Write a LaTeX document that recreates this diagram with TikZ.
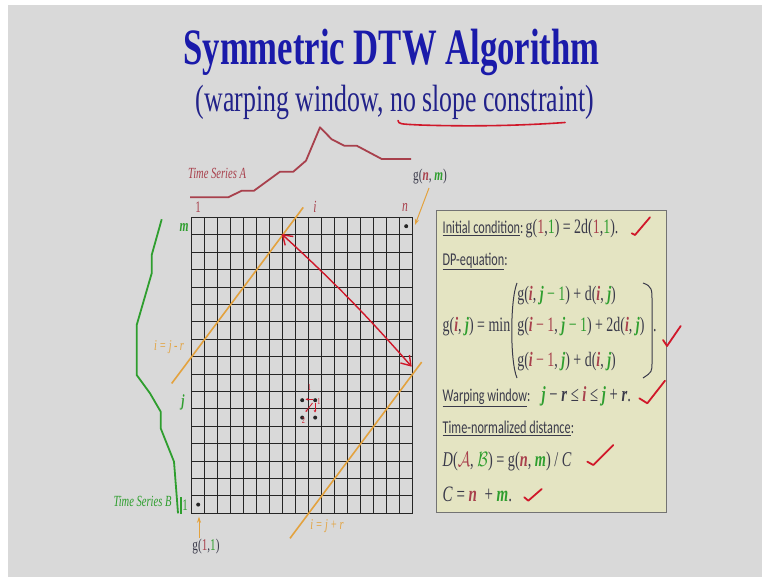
\documentclass[tikz,border=0pt]{standalone}
\usepackage{fontspec}
\setmainfont{Liberation Serif}[FakeStretch=0.68]
\newfontfamily\cbr{Carlito}[FakeStretch=0.68]
\usetikzlibrary{arrows.meta}
\definecolor{bg}{HTML}{D9D9D9}
\definecolor{ttl}{HTML}{1A1AAA}
\definecolor{subc}{HTML}{22228A}
\definecolor{mar}{HTML}{A8404C}
\definecolor{grn}{HTML}{2E9E2E}
\definecolor{org}{HTML}{E3A23E}
\definecolor{chk}{HTML}{D0182A}
\definecolor{boxf}{HTML}{E4E4C2}
\definecolor{txt}{HTML}{3A3A4A}
\newcommand{\ma}[1]{\textcolor{mar}{#1}}
\newcommand{\gr}[1]{\textcolor{grn}{#1}}
\newcommand{\bi}[1]{\textbf{\textit{#1}}}
\newcommand{\fs}[1]{\fontsize{#1}{#1}\selectfont}
\newcommand{\scA}{\scalebox{0.75}[1]{$\mathcal{A}$}}
\newcommand{\scB}{\scalebox{0.75}[1]{$\mathcal{B}$}}
\begin{document}
\begin{tikzpicture}[x=1pt,y=-1pt,
  every node/.style={inner sep=0pt, outer sep=0pt},
  txtl/.style={text=txt, anchor=base west},
  gridline/.style={line width=0.9pt, draw=black!85},
  chkmark/.style={chk, line width=1.8pt, line cap=round, line join=round},
  diag/.style={org, line width=1.6pt},
  oarrow/.style={org, line width=1pt, -{Stealth[length=6pt,width=4pt]}},
  smarr/.style={chk, line width=0.8pt, -{Stealth[length=2.5pt,width=2.5pt]}},
  dot/.style={fill=black!85}]
\useasboundingbox (0,0) rectangle (762,577);
\fill[white] (0,0) rectangle (762,577);
\fill[bg] (8,5) rectangle (762,577);

% titles
\node[anchor=base, text=ttl, font=\fs{51}\bfseries] (title) at (391.5,65) {Symmetric DTW Algorithm};
\node[anchor=base, text=subc, font=\fs{38}] (subt) at (395,112) {(warping window, no slope constraint)};
\draw[chk, line width=1.6pt, line cap=round] (398,120.5) .. controls (399,124) .. (420,125) .. controls (480,127) and (530,125) .. (565,122.5);

% time series A
\draw[mar, line width=1.8pt, line join=round] (190,197.3) -- (228.3,197.3) -- (241.7,190.7) -- (254,190.7) -- (280,171.7) -- (293.3,171.7) -- (306,160.7) -- (320,127.3) -- (331.7,139.3) -- (344.3,145.7) -- (356.7,145.7) -- (381.7,159) -- (411,159);
\node[text=mar, font=\fs{15.5}\itshape] (tsa) at (217,173) {Time Series A};

% time series B
\draw[grn, line width=1.8pt, line join=round] (161.7,219.3) -- (151.7,255) -- (151.7,273.3) -- (136.7,325) -- (136.7,375) -- (150,393.3) -- (160.7,411.7) -- (160.7,428.3) -- (174,461.7) -- (177,500) -- (178,513.3);
\draw[grn, line width=1.4pt] (181,497) -- (181,514);
\node[text=grn, font=\fs{15.5}\itshape] (tsb) at (142.5,501.7) {Time Series B};

% grid
\begin{scope}[shift={(191.7,513.3)}, x=13pt, y=17.4pt]
  \foreach \k in {0,...,17} {
    \draw[gridline] (\k,0) -- (\k,17);
    \draw[gridline] (0,\k) -- (17,\k);
  }
  \draw[line width=1.2pt, draw=black!85] (0,0) rectangle (17,17);
  \fill[dot] (0.5,0.5) circle (2pt);
  \fill[dot] (16.5,16.5) circle (2pt);
  \fill[dot] (8.5,6.5) circle (2pt);
  \fill[dot] (9.5,6.5) circle (2pt);
  \fill[dot] (8.5,5.5) circle (2pt);
  \fill[dot] (9.5,5.5) circle (2pt);
  \coordinate (w1a) at (-1.54,7.46);
  \coordinate (w1b) at (8.58,17.58);
  \coordinate (w2a) at (7.56,-1.44);
  \coordinate (w2b) at (17.69,8.69);
  \draw[diag] (w1a) -- (w1b);
  \draw[diag] (w2a) -- (w2b);
\end{scope}

% axis labels
\node[text=mar, font=\fs{16}] (a1) at (198,207) {1};
\node[text=mar, font=\fs{17}\itshape] (ai) at (315,207) {i};
\node[text=mar, font=\fs{17}\itshape] (an) at (405,207) {n};
\node[text=grn, font=\fs{17}\bfseries\itshape] (bm) at (184,227) {m};
\node[text=grn, font=\fs{17}\bfseries\itshape] (bj) at (183,402) {j};
\node[text=grn, font=\fs{16}] (b1) at (185,505) {1};
\node[text=org, font=\fs{15}\itshape] (lw1) at (169,347) {i\,=\,j\,-\,r};
\node[text=org, font=\fs{15}\itshape] (lw2) at (327,526) {i\,=\,j\,+\,r};

% g(n,m) and g(1,1)
\node[text=txt, font=\fs{16.5}] (gnm) at (430,177) {g(\ma{\bi{n}}, \gr{\bi{m}})};
\coordinate (gnmfoot) at (429,188);
\coordinate (gnmtip) at (415,225);
\draw[oarrow] (gnmfoot) -- (gnmtip);
\node[text=txt, font=\fs{16.5}] (g11) at (206,546.7) {g(\ma{1},\gr{1})};
\coordinate (g11foot) at (199,538);
\coordinate (g11tip) at (199,516.7);
\draw[oarrow] (g11foot) -- (g11tip);

% red double arrow
\coordinate (ra) at (281.7,234);
\coordinate (rb) at (411.7,366.7);
\draw[chk, line width=1.4pt, {Straight Barb[length=9pt,width=12pt]}-{Straight Barb[length=9pt,width=12pt]}] (ra) to[bend left=3] (rb);

% small local arrows
\draw[smarr] (313.3,399.3) -- (305.5,399.3);
\draw[smarr] (315,402.5) -- (315,412.5);
\draw[smarr] (312.5,403) -- (305.5,412);
\node[text=chk, font=\fs{9}] (s1) at (309.5,388) {1};
\node[text=chk, font=\fs{9}] (s2) at (319,402) {1};
\node[text=chk, font=\fs{9}] (s3) at (303.5,421) {2};

% box
\node[draw=black!55, line width=0.9pt, fill=boxf, minimum width=230pt, minimum height=302pt] (box) at (551,361) {};

\node[txtl] (l1) at (442.7,233.3) {{\cbr\fs{18}\underline{Initial condition}:} {\fs{20.5}g(\ma{1},\gr{1}) = 2d(\ma{1},\gr{1}).}};
\node[txtl] (l2) at (442.7,265) {\cbr\fs{18}\underline{DP-equation}:};
\node[txtl, font=\fs{20.5}] (l3) at (442.7,331.7) {g(\ma{\bi{i}}, \gr{\bi{j}}) = min};
\node[txtl, font=\fs{20.5}] (l3a) at (517.3,300) {g(\ma{\bi{i}}, \gr{\bi{j}\,−\,1}) + d(\ma{\bi{i}}, \gr{\bi{j}})};
\node[txtl, font=\fs{20.5}] (l3b) at (517.3,331.7) {g(\ma{\bi{i}\,−\,1}, \gr{\bi{j}\,−\,1}) + 2d(\ma{\bi{i}}, \gr{\bi{j}})};
\node[txtl, font=\fs{20.5}] (l3c) at (517.3,366.7) {g(\ma{\bi{i}\,−\,1}, \gr{\bi{j}}) + d(\ma{\bi{i}}, \gr{\bi{j}})};
\node[txtl, font=\fs{20.5}] (dot3) at (653,331.7) {.};
\draw[txt, line width=1pt] (517,283) .. controls (510,300) and (510,362) .. (517,378);
\draw[txt, line width=1pt] (643,283) .. controls (652,286) and (652,290) .. (652,300) -- (652,362) .. controls (652,372) .. (643,378);
\node[txtl] (l4) at (442.7,401.7) {\cbr\fs{18}\underline{Warping window}:};
\node[txtl, font=\fs{21.5}] (l4b) at (541.7,401.7) {\gr{\bi{j}} − \bi{r} ≤ \ma{\bi{i}} ≤ \gr{\bi{j}} + \bi{r}.};
\node[txtl] (l5) at (442.7,433.3) {\cbr\fs{18}\underline{Time-normalized distance}:};
\node[txtl, font=\fs{21}] (l6) at (442.7,466) {\textit{D}(\ma{\scA}, \gr{\scB}) = g(\ma{\bi{n}}, \gr{\bi{m}}) / \textit{C}};
\node[txtl, font=\fs{22}] (l7) at (442.7,501.7) {\textit{C} = \ma{\bi{n}} ~+ \gr{\bi{m}}.};

% check marks
\draw[chkmark] (631.7,233.3) -- (635,235) -- (650,217.3);
\draw[chkmark] (663,340) -- (667,346) -- (680.7,326);
\draw[chkmark] (639.3,398.3) -- (647.3,403.3) -- (665,380.7);
\draw[chkmark] (587.3,461.7) -- (593.3,465) -- (613.3,445);
\draw[chkmark] (524.3,497.3) -- (528.3,500.7) -- (541.7,489);
\end{tikzpicture}
\end{document}
